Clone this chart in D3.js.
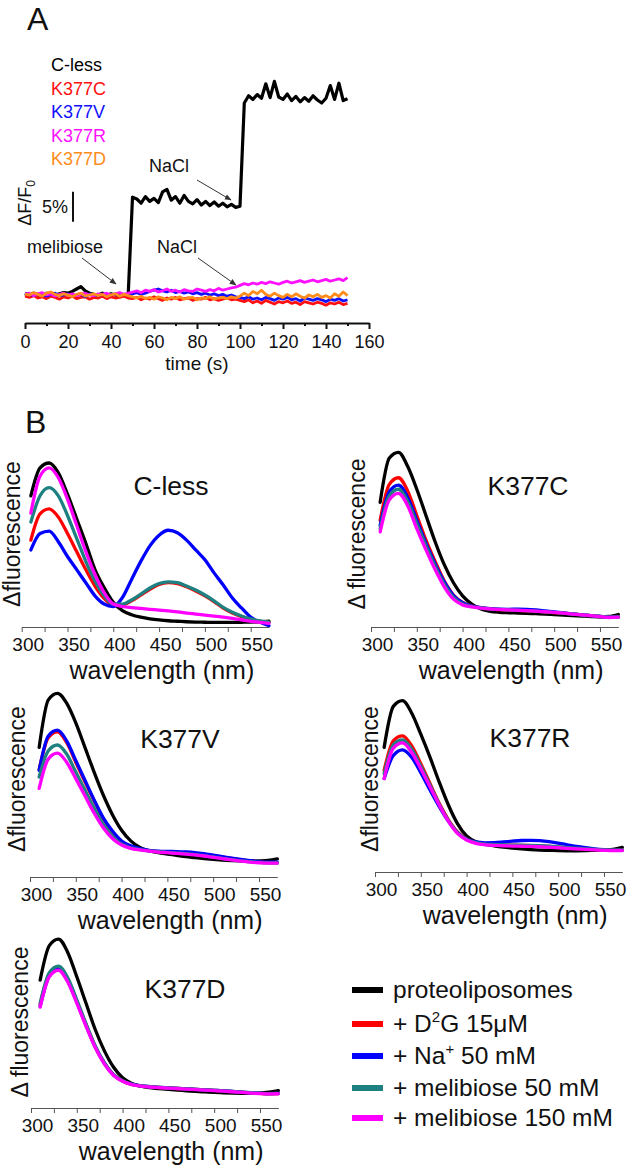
<!DOCTYPE html>
<html><head><meta charset="utf-8">
<script src="https://cdn.jsdelivr.net/npm/d3@7"></script>
<style>body{margin:0;background:#fff}</style>
</head><body>
<svg id="c" width="633" height="1173" xmlns="http://www.w3.org/2000/svg"></svg>
<script>
// ---------- Panel A data (ΔF/F0, %) ----------
const timeS = [0,2,4,6,8,10,12,14,16,18,20,22,24,26,28,30,32,34,36,38,40,42,44,46,48,50,52,54,56,58,60,62,64,66,68,70,72,74,76,78,80,82,84,86,88,90,92,94,96,98,100,102,104,106,108,110,112,114,116,118,120,122,124,126,128,130,132,134,136,138,140,142,144,146,148,150];
const traceCless = [0.2,-0.1,0.3,0.0,-0.2,0.3,0.1,-0.1,0.2,0.4,0.3,0.6,1.0,1.4,0.7,0.3,0.1,0.0,0.3,-0.1,0.2,0.0,-0.2,0.1,0.0,
  16.3,16.0,15.3,16.4,15.6,16.1,15.4,17.2,17.6,15.8,16.4,15.3,16.6,15.6,15.2,15.9,15.0,15.6,14.9,15.5,14.8,15.3,14.7,15.1,14.6,
  14.8,
  32.0,33.2,32.6,33.4,32.8,35.2,32.9,35.6,33.0,32.6,33.5,32.4,33.1,32.2,32.9,32.3,33.2,32.5,32.0,32.8,34.9,32.6,35.3,32.4,32.7];
const traceK377C = [-0.2,-0.4,-0.1,-0.5,-0.3,-0.6,-0.2,-0.4,-0.7,-0.3,-0.5,-0.2,-0.6,-0.4,-0.3,-0.7,-0.4,-0.5,-0.2,-0.6,-0.3,-0.5,-0.4,-0.2,-0.5,
  -0.6,-0.4,-0.8,-0.5,-0.7,-0.3,-0.6,-0.9,-0.5,-0.7,-0.4,-0.8,-0.6,-0.5,-0.9,-0.6,-0.7,-0.4,-0.8,-0.6,-0.9,-0.7,-0.5,-0.8,-0.7,
  -0.9,
  -1.1,-0.8,-1.3,-1.0,-1.4,-0.9,-1.2,-1.5,-1.1,-1.3,-1.0,-1.4,-1.2,-1.6,-1.1,-1.3,-1.5,-1.2,-1.4,-1.7,-1.3,-1.5,-1.2,-1.6,-1.4];
const traceK377V = [0.3,0.1,-0.1,0.2,0.0,-0.2,0.1,0.3,-0.1,0.0,0.2,-0.2,0.0,0.1,-0.3,0.2,0.0,-0.1,0.1,-0.2,0.0,0.2,-0.1,0.1,0.0,
  0.2,0.4,0.1,0.3,0.6,0.8,1.0,0.7,0.5,0.8,0.4,0.6,0.3,0.5,0.2,0.4,0.1,0.3,0.0,0.2,-0.1,0.1,-0.2,0.0,-0.3,
  -0.4,
  -0.6,-0.3,-0.7,-0.5,-0.8,-0.4,-0.6,-0.9,-0.5,-0.7,-0.4,-0.8,-0.6,-1.0,-0.5,-0.7,-0.9,-0.6,-0.8,-1.1,-0.7,-0.9,-0.6,-1.0,-0.8];
const traceK377R = [0.1,0.3,-0.1,0.2,0.4,0.0,0.2,-0.2,0.1,0.3,0.0,0.2,-0.1,0.1,0.3,0.0,-0.1,0.2,0.1,0.3,0.0,0.2,0.4,0.1,0.3,
  0.5,0.7,0.4,0.8,0.6,0.9,0.5,0.7,1.0,0.6,0.8,0.5,0.9,0.7,0.6,1.0,0.8,0.6,0.9,0.7,1.1,0.8,1.0,1.2,1.3,
  1.6,
  1.9,1.7,2.0,1.8,2.1,1.9,2.2,2.0,1.8,2.1,2.3,2.0,2.2,2.4,2.1,2.3,2.5,2.2,2.4,2.6,2.3,2.5,2.7,2.4,2.9];
const traceK377D = [0.2,0.0,0.4,0.1,-0.2,0.3,0.5,0.1,-0.1,0.2,0.0,-0.3,0.1,0.3,-0.2,0.0,0.2,-0.1,0.1,-0.3,0.0,0.2,-0.2,0.1,-0.1,
  -0.3,-0.5,-0.2,-0.6,-0.4,-0.7,-0.3,-0.5,-0.8,-0.4,-0.6,-0.3,-0.7,-0.5,-0.4,-0.8,-0.5,-0.6,-0.3,-0.7,-0.5,-0.4,-0.6,-0.3,-0.5,
  -0.2,
  0.3,-0.1,0.6,0.2,0.8,0.1,-0.2,0.3,-0.1,-0.4,0.1,-0.3,0.2,-0.2,-0.5,0.0,-0.3,0.1,-0.4,-0.1,-0.5,0.2,-0.2,0.5,-0.1];
const timeTicks = [0,10,20,30,40,50,60,70,80,90,100,110,120,130,140,150,160];
const mutantNames = ["C-less","K377C","K377V","K377R","K377D"];
const mutantColors = ["#000000","#ff1010","#1010ff","#ff10ff","#ff8c1a"];

// ---------- Panel B data (Δfluorescence, arbitrary units) ----------
const wavelengths = [310,320,330,340,350,360,370,380,390,400,410,420,430,440,450,460,470,480,490,500,510,520,530,540,550,560,570];
const wlTicks = [300,325,350,375,400,425,450,475,500,525,550];
const cless_prot   = [80,97,100,94,81,66,51,35,24,15,10,7.5,6,5,4.3,3.8,3.5,3.2,3.0,2.9,2.8,2.8,2.8,2.9,3.0,3.2,3.6];
const cless_d2g    = [53,69,72,67,57,46,35,25,17.5,13.5,13.5,16,19.5,23,26,27,26.5,24.5,22,19,15.5,11.5,8.5,6.3,4.6,3.5,2.8];
const cless_na     = [47,57,58.5,52,43,35,27,19,14,12.5,18,29,40,49.5,56,59,57.5,53,47,41,33,25.6,17.7,11.6,6,3,0.8];
const cless_mel50  = [64,80,85,80,68,54,40,28,19,14,14,16.5,20,23.8,26.5,27.5,27,25,22.5,19.5,16,12,9,6.7,4.9,3.7,3];
const cless_mel150 = [69.5,92,97,91,78,62,46,32,21,14,12.5,11.8,11.3,10.8,10.3,9.8,9.2,8.5,7.9,7.3,6.6,6,5.3,4.4,3.5,2.8,2.2];

const k377c_prot   = [76,103,106.5,98,84,68,52,38,27,19,14,11,9.6,9.0,8.7,8.5,8.3,8.1,7.9,7.6,7.3,7.0,6.7,6.4,6.2,6.4,7.6];
const k377c_d2g    = [65,87,91,83,68,53,40,28,19.5,15,12.8,11.7,11.0,10.6,10.3,10.1,9.9,9.6,9.2,8.8,8.4,7.9,7.4,6.9,6.4,6.0,6.2];
const k377c_na     = [62,82.5,86.5,79,65,51,38.5,27.5,19.2,14.8,12.8,11.8,11.2,10.9,10.8,10.9,10.8,10.4,9.8,9.2,8.6,8.0,7.4,6.9,6.4,6.0,6.2];
const k377c_mel50  = [60,80,84,76.5,63,49.5,37,26,18,14,12.5,11.6,11.0,10.7,10.4,10.2,10.0,9.7,9.3,8.9,8.4,7.9,7.4,6.9,6.4,6.0,6.2];
const k377c_mel150 = [58,77.5,81.5,74,60,47,35,24.5,17,13.5,12.2,11.5,11.0,10.7,10.4,10.2,10.0,9.7,9.3,8.9,8.4,7.9,7.4,6.9,6.3,5.8,6.0];

const k377v_prot   = [79,108,112,106,94,79,64,50,38,28.5,22,18,16,14.8,14,13.2,12.4,11.8,11.2,10.7,10.3,10.0,9.8,9.7,9.8,10.1,11];
const k377v_d2g    = [65.5,85,88.5,82,70,58,46.5,35.5,27.5,21.5,18.5,17,16.1,15.5,15.2,15.0,14.7,14.3,13.7,12.9,12.1,11.3,10.5,9.8,9.2,8.8,8.7];
const k377v_na     = [65,86,89.5,83,71,59,47,36,28,22,19,17.3,16.3,15.8,15.6,15.5,15.3,14.9,14.2,13.3,12.4,11.5,10.7,10.0,9.4,9.0,9.0];
const k377v_mel50  = [61,77,80.5,75,64,53,42,32,25,20,17.8,16.7,16.0,15.4,15.0,14.6,14.2,13.7,13.0,12.2,11.4,10.6,9.9,9.3,8.9,8.6,8.6];
const k377v_mel150 = [54,72,75.5,70,60,49.5,39,30,23.5,19.5,17.5,16.5,15.8,15.2,14.8,14.4,14.0,13.5,12.8,12.0,11.2,10.4,9.7,9.1,8.7,8.4,8.4];

const k377r_prot   = [76,101,104.5,97,84,70,55,41,29.5,22,18.5,17,16,15.2,14.6,14.1,13.7,13.4,13.2,13.0,12.9,12.9,13.0,13.2,13.4,13.8,15];
const k377r_d2g    = [62,80,83,77,66,54,42,32,24.5,20,18,17,16.6,16.4,16.3,16.2,16.1,15.9,15.6,15.2,14.8,14.4,14.0,13.7,13.5,13.4,13.5];
const k377r_na     = [57,71,74.5,70,60.5,50,40,31,24,20,18.3,17.8,17.9,18.3,18.8,19.2,19.3,19.1,18.5,17.6,16.6,15.6,14.8,14.1,13.6,13.3,13.3];
const k377r_mel50  = [60,77.5,80.5,75,64.5,53,41.5,31.5,24,19.8,17.9,17.0,16.7,16.5,16.4,16.3,16.2,16.0,15.7,15.3,14.9,14.5,14.1,13.8,13.5,13.3,13.3];
const k377r_mel150 = [57,75.5,78.7,73,63,52,41,31,23.5,19.5,17.5,16.6,16.2,16.0,15.8,15.7,15.6,15.4,15.1,14.8,14.4,14.1,13.8,13.5,13.2,13.0,13.0];

const k377d_prot   = [78,99,103,95,80,64,48,35,25,18.5,15,13.3,12.4,11.8,11.3,10.9,10.5,10.1,9.8,9.5,9.3,9.1,9.0,9.0,9.2,9.6,10.6];
const k377d_d2g    = [63,81.5,85.5,78.5,65,51,37.5,27.5,20.3,16.5,14.4,13.4,12.9,12.5,12.2,11.9,11.6,11.3,11.0,10.7,10.4,10.0,9.6,9.2,8.9,8.7,8.8];
const k377d_na     = [62,80.5,84.5,77.5,64.5,50.5,37.3,27.3,20.2,16.4,14.5,13.5,13.0,12.6,12.3,12.0,11.7,11.4,11.1,10.8,10.5,10.1,9.7,9.3,9.0,8.8,8.9];
const k377d_mel50  = [64,82.5,86.5,79.5,66,51.5,38,27.8,20.5,16.6,14.5,13.5,13.0,12.6,12.3,12.0,11.7,11.4,11.1,10.8,10.5,10.1,9.7,9.3,9.0,8.8,8.9];
const k377d_mel150 = [61.5,80,84,77,64,50,37,27,20,16.3,14.3,13.3,12.8,12.4,12.1,11.8,11.5,11.2,10.9,10.6,10.3,9.9,9.5,9.1,8.8,8.6,8.7];

const conditionNames = ["proteoliposomes","+ D2G 15μM","+ Na+ 50 mM","+ melibiose 50 mM","+ melibiose 150 mM"];
const conditionColors = ["#000000","#ff0000","#0000ff","#1e8080","#ff00ff"];

// ---------- drawing ----------
const FONT = "'Liberation Sans', Arial, Helvetica, sans-serif";
const svg = d3.select("#c").style("font-family", FONT);

// Panel A
svg.append("text").attr("x",27).attr("y",30).attr("font-size",32).attr("fill","#111").text("A");
const xA = d3.scaleLinear().domain([0,160]).range([25,369]);
const yA = d3.scaleLinear().domain([0,40]).range([295,55]);
const lineA = d3.line().x((d,i)=>xA(timeS[i])).y(d=>yA(d));
const tracesA = [
  {data: traceCless, color: mutantColors[0], w: 3.2},
  {data: traceK377C, color: mutantColors[1], w: 2.8},
  {data: traceK377V, color: mutantColors[2], w: 2.8},
  {data: traceK377R, color: mutantColors[3], w: 2.8},
  {data: traceK377D, color: mutantColors[4], w: 2.8}
];
svg.append("g").selectAll("path").data(tracesA).join("path")
  .attr("d", d=>lineA(d.data)).attr("fill","none")
  .attr("stroke", d=>d.color).attr("stroke-width", d=>d.w).attr("stroke-linejoin","round");

const gA = svg.append("g").attr("transform","translate(0,323)")
  .call(d3.axisBottom(xA).tickValues(timeTicks).tickSize(6).tickSizeOuter(0).tickPadding(6)
    .tickFormat(d => d % 20 === 0 ? d : ""));
gA.select(".domain").attr("stroke","#111").attr("stroke-width",2);
gA.selectAll(".tick line").attr("stroke","#111").attr("stroke-width",2).attr("y2", d => d % 20 === 0 ? 6 : 3);
gA.selectAll(".tick text").attr("font-size",18).attr("font-family",FONT).attr("fill","#111");
svg.append("text").attr("x",197).attr("y",370).attr("text-anchor","middle").attr("font-size",19).attr("fill","#111").text("time (s)");

// legend A
mutantNames.forEach((n,i)=>{
  svg.append("text").attr("x",51).attr("y",71 + i*23.5).attr("font-size",18).attr("fill",mutantColors[i]).text(n);
});
// y label A
const yl = svg.append("text").attr("transform","translate(31,203) rotate(-90)").attr("text-anchor","middle")
  .attr("font-size",18).attr("fill","#111");
yl.append("tspan").text("ΔF/F");
yl.append("tspan").attr("font-size",12).attr("dy",4).text("0");
// scale bar 5%
svg.append("line").attr("x1",73).attr("x2",73).attr("y1",yA(12.2)).attr("y2",yA(17.2)).attr("stroke","#111").attr("stroke-width",2);
svg.append("text").attr("x",42).attr("y",213).attr("font-size",18).attr("fill","#111").text("5%");

// annotations
const defs = svg.append("defs");
defs.append("marker").attr("id","ah").attr("viewBox","0 0 10 10").attr("refX",9).attr("refY",5)
  .attr("markerWidth",7).attr("markerHeight",7).attr("orient","auto")
  .append("path").attr("d","M0,1 L10,5 L0,9 z").attr("fill","#333");
const ann = [
  {t:"NaCl", tx:149, ty:172, x1:197, y1:180, x2:231, y2:200},
  {t:"melibiose", tx:27, ty:253, x1:82, y1:258, x2:116, y2:284},
  {t:"NaCl", tx:157, ty:253, x1:198, y1:258, x2:236, y2:285}
];
ann.forEach(a=>{
  svg.append("text").attr("x",a.tx).attr("y",a.ty).attr("font-size",18).attr("fill","#111").text(a.t);
  svg.append("line").attr("x1",a.x1).attr("y1",a.y1).attr("x2",a.x2).attr("y2",a.y2)
    .attr("stroke","#333").attr("stroke-width",1).attr("marker-end","url(#ah)");
});

// Panel B
svg.append("text").attr("x",25).attr("y",433).attr("font-size",32).attr("fill","#111").text("B");

const panels = [
  {title:"C-less", tx:171, ty:495, x0:21.7, axisY:627, yl:"Δfluorescence", ylx:12, yly:534,
   series:[cless_prot,cless_d2g,cless_na,cless_mel50,cless_mel150]},
  {title:"K377C", tx:528, ty:495, x0:371, axisY:627, yl:"Δ fluorescence", ylx:357, yly:534,
   series:[k377c_prot,k377c_d2g,k377c_na,k377c_mel50,k377c_mel150]},
  {title:"K377V", tx:180, ty:748, x0:30, axisY:877, yl:"Δfluorescence", ylx:17, yly:779,
   series:[k377v_prot,k377v_d2g,k377v_na,k377v_mel50,k377v_mel150]},
  {title:"K377R", tx:530, ty:747, x0:375, axisY:872, yl:"Δfluorescence", ylx:370, yly:779,
   series:[k377r_prot,k377r_d2g,k377r_na,k377r_mel50,k377r_mel150]},
  {title:"K377D", tx:185, ty:998, x0:31, axisY:1108, yl:"Δ fluorescence", ylx:20, yly:1022,
   series:[k377d_prot,k377d_d2g,k377d_na,k377d_mel50,k377d_mel150]}
];

panels.forEach(p=>{
  const x = d3.scaleLinear().domain([300,570]).range([p.x0, p.x0 + 247.3]);
  const y = d3.scaleLinear().domain([0,115]).range([p.axisY, p.axisY - 188.6]);
  const line = d3.line().x((d,i)=>x(wavelengths[i])).y(d=>y(d)).curve(d3.curveMonotoneX);
  const g = svg.append("g");
  g.selectAll("path").data(p.series).join("path")
    .attr("d", d=>line(d)).attr("fill","none")
    .attr("stroke",(d,i)=>conditionColors[i]).attr("stroke-width",3.3)
    .attr("stroke-linecap","round").attr("stroke-linejoin","round");
  const ax = svg.append("g").attr("transform",`translate(0,${p.axisY})`)
    .call(d3.axisBottom(x).tickValues(wlTicks).tickSize(5).tickSizeOuter(0).tickPadding(6)
      .tickFormat(d => d % 50 === 0 ? d : ""));
  ax.select(".domain").attr("stroke","#555").attr("stroke-width",1);
  ax.selectAll(".tick line").attr("stroke","#555").attr("stroke-width",1);
  ax.selectAll(".tick text").attr("font-size",19).attr("font-family",FONT).attr("fill","#111").attr("dx",6);
  svg.append("text").attr("x", x(453)).attr("y", p.axisY + 52).attr("text-anchor","middle")
    .attr("font-size",25).attr("fill","#111").text("wavelength (nm)");
  svg.append("text").attr("x",p.tx).attr("y",p.ty).attr("text-anchor","middle")
    .attr("font-size",26.5).attr("fill","#111").text(p.title);
  svg.append("text").attr("transform",`translate(${p.ylx + 8},${p.yly}) rotate(-90)`)
    .attr("text-anchor","middle").attr("font-size",23).attr("fill","#111").text(p.yl);
});

// Legend B
const legY = [990,1024,1056,1088,1118];
conditionNames.forEach((n,i)=>{
  svg.append("line").attr("x1",352).attr("x2",383).attr("y1",legY[i]).attr("y2",legY[i])
    .attr("stroke",conditionColors[i]).attr("stroke-width",6);
  const t = svg.append("text").attr("x",393).attr("y",legY[i]+8).attr("font-size",24.5).attr("fill","#111");
  if (i === 1) {
    t.append("tspan").text("+ D");
    t.append("tspan").attr("font-size",15).attr("dy",-10).text("2");
    t.append("tspan").attr("dy",10).text("G 15μM");
  } else if (i === 2) {
    t.append("tspan").text("+ Na");
    t.append("tspan").attr("font-size",15).attr("dy",-10).text("+");
    t.append("tspan").attr("dy",10).text(" 50 mM");
  } else {
    t.text(n);
  }
});
</script>
</body></html>
